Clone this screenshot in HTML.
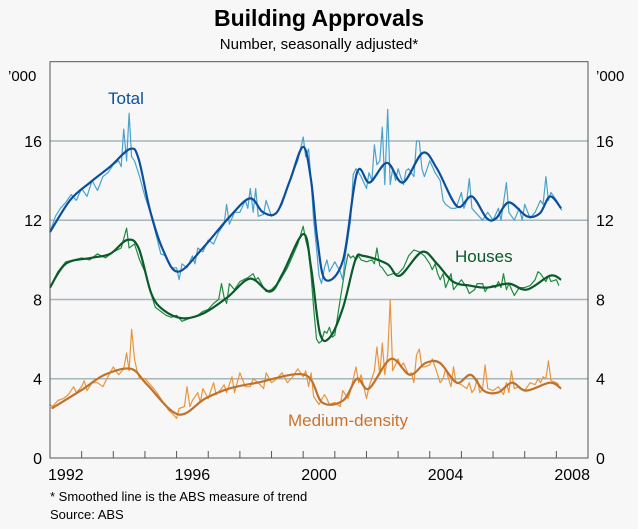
<!DOCTYPE html>
<html><head><meta charset="utf-8">
<style>
body{margin:0;background:#f7f7f7;}
svg{display:block;font-family:"Liberation Sans",Arial,sans-serif;}
</style></head>
<body>
<svg id="chart" width="638" height="529" viewBox="0 0 638 529">
<rect x="0" y="0" width="638" height="529" fill="#f7f7f7"/>
<text x="319" y="26" text-anchor="middle" font-size="23" font-weight="bold" fill="#000">Building Approvals</text>
<text x="319" y="49" text-anchor="middle" font-size="15" fill="#000">Number, seasonally adjusted*</text>
<g id="grid"></g>
<g id="series"></g>
<rect x="50" y="61.7" width="538" height="396.3" fill="none" stroke="#555" stroke-width="1"/>
<g id="axes"></g>
<text x="8" y="81" font-size="15">’000</text>
<text x="596" y="81" font-size="15">’000</text>
<text x="108" y="104" font-size="17" fill="#0b4f9c">Total</text>
<text x="455" y="262" font-size="17" fill="#0b5a2c">Houses</text>
<text x="288" y="426" font-size="17" fill="#c9742c">Medium-density</text>
<text x="50" y="501" font-size="13">*    Smoothed line is the ABS measure of trend</text>
<text x="50" y="519" font-size="13">Source: ABS</text>
</svg>
<script>
const yTicks=[0,4,8,12,16];
const xLabels=[1992,1996,2000,2004,2008];
const totalTrend=[[1992.0,11.4],[1992.63,13.0],[1993.26,13.9],[1993.9,14.7],[1994.53,15.6],[1994.8,15.1],[1995.16,12.5],[1995.57,10.5],[1996.05,9.4],[1996.83,10.6],[1997.69,12.2],[1998.32,13.1],[1998.73,12.4],[1999.17,12.4],[1999.58,14.0],[2000.0,15.7],[2000.25,14.0],[2000.45,11.0],[2000.7,9.0],[2001.26,10.0],[2001.7,14.4],[2002.1,13.9],[2002.65,14.9],[2003.15,13.9],[2003.78,15.4],[2004.23,14.6],[2004.86,12.7],[2005.33,13.2],[2005.8,12.1],[2006.1,12.1],[2006.5,12.9],[2007.07,12.2],[2007.48,12.35],[2007.8,13.2],[2008.15,12.6]];
const housesTrend=[[1992.0,8.6],[1992.5,9.8],[1993.3,10.1],[1993.9,10.3],[1994.43,11.0],[1994.8,10.6],[1995.2,8.3],[1995.6,7.45],[1996.2,7.05],[1996.85,7.3],[1997.6,8.1],[1998.32,9.05],[1998.95,8.4],[1999.35,9.3],[2000.0,11.3],[2000.25,9.6],[2000.53,6.3],[2000.85,6.1],[2001.26,7.6],[2001.65,10.0],[2001.9,10.2],[2002.65,9.8],[2003.05,9.2],[2003.75,10.4],[2004.23,9.8],[2004.73,8.9],[2005.26,8.7],[2005.8,8.6],[2006.5,8.8],[2007.07,8.5],[2007.8,9.2],[2008.15,9.0]];
const mediumTrend=[[1992.05,2.5],[1992.97,3.4],[1993.73,4.2],[1994.56,4.5],[1995.07,3.7],[1996.05,2.2],[1996.9,3.0],[1997.66,3.5],[1998.55,3.8],[2000.05,4.2],[2000.6,2.8],[2001.26,2.9],[2001.7,4.0],[2002.08,3.5],[2002.77,5.0],[2003.37,4.2],[2003.87,4.8],[2004.32,4.8],[2004.85,3.8],[2005.3,4.2],[2005.7,3.4],[2006.15,3.3],[2006.6,3.8],[2007.04,3.4],[2007.8,3.8],[2008.15,3.5]];
const totalRaw=[[1992.0,11.4],[1992.17,12.2],[1992.33,12.6],[1992.5,12.9],[1992.67,13.3],[1992.83,13.0],[1993.0,13.6],[1993.17,13.2],[1993.33,14.0],[1993.5,13.5],[1993.67,14.2],[1993.83,14.4],[1994.0,14.8],[1994.17,15.0],[1994.25,14.7],[1994.33,16.6],[1994.42,15.0],[1994.5,17.4],[1994.58,15.2],[1994.67,15.0],[1994.83,14.2],[1995.0,13.2],[1995.17,12.4],[1995.33,11.4],[1995.5,10.3],[1995.67,10.2],[1995.83,9.6],[1996.0,9.6],[1996.08,9.0],[1996.17,9.8],[1996.33,9.6],[1996.5,10.2],[1996.58,9.8],[1996.67,10.6],[1996.83,10.4],[1997.0,11.0],[1997.17,10.8],[1997.33,11.4],[1997.5,11.8],[1997.58,12.8],[1997.67,11.8],[1997.83,12.4],[1998.0,12.4],[1998.17,13.0],[1998.25,12.6],[1998.33,13.6],[1998.42,12.4],[1998.5,13.6],[1998.58,12.2],[1998.75,12.3],[1998.83,13.0],[1999.0,12.2],[1999.17,12.4],[1999.33,12.8],[1999.5,13.6],[1999.67,14.4],[1999.83,15.0],[2000.0,16.2],[2000.08,15.2],[2000.17,15.6],[2000.25,14.0],[2000.33,12.0],[2000.42,10.6],[2000.5,9.2],[2000.58,8.8],[2000.67,9.6],[2000.75,10.0],[2000.83,9.4],[2001.0,9.9],[2001.17,9.4],[2001.25,9.0],[2001.33,10.2],[2001.5,12.0],[2001.58,14.3],[2001.67,14.6],[2001.75,14.4],[2001.83,14.2],[2002.0,13.6],[2002.08,14.4],[2002.17,14.0],[2002.25,15.8],[2002.33,14.8],[2002.42,15.0],[2002.5,16.7],[2002.58,13.8],[2002.67,17.6],[2002.75,13.8],[2002.83,14.6],[2002.92,14.0],[2003.0,14.6],[2003.08,14.2],[2003.17,13.8],[2003.25,14.5],[2003.33,14.6],[2003.5,14.2],[2003.58,16.0],[2003.67,16.0],[2003.75,14.6],[2003.83,14.2],[2004.0,15.0],[2004.17,14.4],[2004.33,14.0],[2004.42,13.0],[2004.5,12.8],[2004.67,12.6],[2004.83,12.6],[2005.0,13.4],[2005.08,12.6],[2005.17,13.0],[2005.25,14.1],[2005.33,12.6],[2005.5,12.3],[2005.67,12.0],[2005.83,12.4],[2006.0,12.0],[2006.17,12.6],[2006.25,12.0],[2006.42,13.9],[2006.5,12.4],[2006.67,12.0],[2006.83,12.6],[2006.92,12.0],[2007.0,12.8],[2007.17,12.1],[2007.33,12.4],[2007.5,13.0],[2007.58,12.8],[2007.67,14.2],[2007.75,13.0],[2007.83,13.4],[2008.0,13.0],[2008.17,12.5]];
const housesRaw=[[1992.0,8.6],[1992.25,9.4],[1992.5,9.9],[1992.75,10.0],[1993.0,10.1],[1993.25,10.0],[1993.5,10.3],[1993.75,10.1],[1994.0,10.4],[1994.25,10.6],[1994.42,11.6],[1994.5,10.6],[1994.67,10.8],[1994.83,10.0],[1995.0,9.4],[1995.17,8.4],[1995.33,7.6],[1995.5,7.4],[1995.67,7.2],[1995.83,7.1],[1996.0,7.2],[1996.17,6.9],[1996.33,7.0],[1996.5,7.1],[1996.67,7.2],[1996.83,7.4],[1997.0,7.5],[1997.17,7.8],[1997.33,8.0],[1997.42,8.8],[1997.5,8.1],[1997.58,7.8],[1997.67,8.8],[1997.83,8.5],[1998.0,8.9],[1998.25,9.1],[1998.42,9.3],[1998.5,9.0],[1998.58,9.1],[1998.75,8.6],[1998.83,8.4],[1999.0,8.5],[1999.25,8.9],[1999.5,9.6],[1999.67,10.2],[1999.83,10.8],[2000.0,11.7],[2000.08,11.0],[2000.17,10.4],[2000.25,9.2],[2000.33,7.6],[2000.42,6.0],[2000.5,5.8],[2000.58,5.9],[2000.67,6.4],[2000.75,6.3],[2000.83,6.6],[2000.92,6.1],[2001.0,6.2],[2001.17,8.0],[2001.33,9.6],[2001.42,10.3],[2001.5,10.1],[2001.58,10.2],[2001.67,10.0],[2001.75,10.2],[2001.83,10.0],[2002.0,9.9],[2002.17,10.0],[2002.25,9.8],[2002.33,10.6],[2002.42,9.7],[2002.5,9.6],[2002.58,9.4],[2002.67,9.2],[2002.83,9.3],[2003.0,9.3],[2003.17,9.6],[2003.33,10.2],[2003.5,10.5],[2003.67,10.4],[2003.83,10.2],[2004.0,9.8],[2004.08,9.5],[2004.17,9.8],[2004.25,9.3],[2004.33,9.0],[2004.42,9.3],[2004.5,8.6],[2004.58,8.9],[2004.67,9.3],[2004.75,8.5],[2005.0,9.0],[2005.17,8.6],[2005.25,8.3],[2005.42,8.5],[2005.5,8.8],[2005.67,8.8],[2005.75,8.4],[2005.83,8.6],[2006.0,8.7],[2006.08,8.6],[2006.17,8.9],[2006.25,8.6],[2006.33,9.3],[2006.42,8.5],[2006.5,8.8],[2006.67,8.2],[2006.83,8.6],[2007.0,8.6],[2007.17,8.7],[2007.33,9.0],[2007.42,9.4],[2007.5,9.3],[2007.67,8.9],[2007.75,9.2],[2007.83,8.9],[2008.0,9.0],[2008.08,8.7]];
const mediumRaw=[[1992.0,2.7],[1992.08,2.6],[1992.25,2.9],[1992.42,3.0],[1992.58,3.2],[1992.75,3.6],[1992.83,3.3],[1993.0,3.6],[1993.08,3.9],[1993.17,3.4],[1993.33,3.8],[1993.5,3.8],[1993.67,3.6],[1993.83,4.1],[1994.0,4.6],[1994.08,4.4],[1994.17,4.2],[1994.33,4.5],[1994.42,5.3],[1994.5,4.4],[1994.58,6.5],[1994.67,5.0],[1994.75,4.4],[1994.83,4.0],[1995.0,4.0],[1995.17,3.7],[1995.33,3.4],[1995.5,3.0],[1995.67,2.6],[1995.75,2.4],[1995.83,2.3],[1996.0,2.0],[1996.08,2.5],[1996.25,2.6],[1996.33,3.6],[1996.42,2.6],[1996.5,2.9],[1996.67,3.3],[1996.75,2.8],[1996.83,3.5],[1997.0,3.0],[1997.17,3.8],[1997.25,3.2],[1997.42,3.5],[1997.5,3.7],[1997.58,3.3],[1997.75,4.1],[1997.83,3.3],[1998.0,4.3],[1998.17,3.6],[1998.33,3.6],[1998.42,4.0],[1998.58,3.8],[1998.75,3.5],[1998.83,4.3],[1999.0,3.8],[1999.17,4.0],[1999.33,4.3],[1999.5,3.8],[1999.67,4.1],[1999.83,4.5],[2000.0,4.1],[2000.08,4.4],[2000.17,3.6],[2000.25,4.3],[2000.33,3.1],[2000.5,2.7],[2000.67,3.2],[2000.75,3.0],[2000.83,2.7],[2001.0,2.8],[2001.17,2.6],[2001.25,3.4],[2001.42,3.0],[2001.5,3.4],[2001.67,4.6],[2001.75,3.8],[2001.83,4.2],[2002.0,3.0],[2002.08,3.6],[2002.25,4.4],[2002.33,5.6],[2002.42,4.2],[2002.5,5.8],[2002.58,4.2],[2002.67,5.2],[2002.75,8.0],[2002.83,4.4],[2003.0,5.0],[2003.08,4.6],[2003.17,4.8],[2003.33,4.2],[2003.42,4.3],[2003.5,3.8],[2003.58,5.2],[2003.67,5.5],[2003.75,4.6],[2003.83,4.6],[2004.0,4.7],[2004.08,5.0],[2004.17,4.6],[2004.33,3.8],[2004.42,4.0],[2004.5,4.5],[2004.67,3.6],[2004.75,4.6],[2004.83,3.8],[2005.0,3.7],[2005.17,3.5],[2005.25,3.8],[2005.33,3.3],[2005.42,3.5],[2005.5,4.0],[2005.58,3.3],[2005.67,3.5],[2005.75,4.7],[2005.83,3.5],[2006.0,3.4],[2006.17,3.6],[2006.33,3.2],[2006.42,3.8],[2006.5,3.3],[2006.58,4.4],[2006.67,3.5],[2006.83,3.6],[2007.0,3.4],[2007.17,3.8],[2007.33,3.7],[2007.42,4.0],[2007.5,3.8],[2007.58,4.1],[2007.67,4.0],[2007.75,4.9],[2007.83,3.9],[2008.0,3.8],[2008.08,3.7]];

const NS='http://www.w3.org/2000/svg';
const L=50,R=588,T=61.7,B=458;
function xs(yr){return L+(yr-1992)*(R-L)/17;}
function ys(v){return B-v*(B-T)/20;}
function mk(tag,attrs,parent){const e=document.createElementNS(NS,tag);for(const k in attrs)e.setAttribute(k,attrs[k]);parent.appendChild(e);return e;}
const grid=document.getElementById('grid'),axes=document.getElementById('axes'),ser=document.getElementById('series');
yTicks.forEach(v=>{
  if(v>0){const g=mk('line',{x1:L,x2:R,y1:ys(v),y2:ys(v),stroke:'#a7b6ba','stroke-width':1.5},grid);
  
  }
  const t1=mk('text',{x:42,y:ys(v)+6,'text-anchor':'end','font-size':16},axes);t1.textContent=v;
  
  
  const t2=mk('text',{x:596,y:ys(v)+6,'font-size':16},axes);t2.textContent=v;
  
  
});
for(let y=1993;y<=2008;y++){const tk=mk('line',{x1:xs(y),x2:xs(y),y1:B,y2:B-7,stroke:'#555','stroke-width':1},axes);
  
  }
xLabels.forEach(y=>{const t=mk('text',{x:xs(y+0.5),y:B+22,'text-anchor':'middle','font-size':16},axes);t.textContent=y;
  
  });
function poly(d){return d.map((p,i)=>(i?'L':'M')+xs(p[0]).toFixed(1)+','+ys(p[1]).toFixed(1)).join('');}
function smooth(d){const P=d.map(p=>[xs(p[0]),ys(p[1])]);let s='M'+P[0][0].toFixed(1)+','+P[0][1].toFixed(1);
  for(let i=0;i<P.length-1;i++){const p0=P[Math.max(i-1,0)],p1=P[i],p2=P[i+1],p3=P[Math.min(i+2,P.length-1)];
  const c1=[p1[0]+(p2[0]-p0[0])/6,p1[1]+(p2[1]-p0[1])/6],c2=[p2[0]-(p3[0]-p1[0])/6,p2[1]-(p3[1]-p1[1])/6];
  s+='C'+c1.map(n=>n.toFixed(1))+' '+c2.map(n=>n.toFixed(1))+' '+p2[0].toFixed(1)+','+p2[1].toFixed(1);}return s;}
function line(d,color,w,name,isSmooth){const e=mk('path',{d:isSmooth?smooth(d):poly(d),fill:'none',stroke:color,'stroke-width':w,'stroke-linejoin':'round'},ser);
  
  }
line(mediumRaw,'#e8953f',1.2,'medium-density-raw-line',false);
line(mediumTrend,'#c0722c',2.2,'medium-density-trend-line',true);
line(housesRaw,'#1f8b3e',1.2,'houses-raw-line',false);
line(housesTrend,'#0b5a2c',2.2,'houses-trend-line',true);
line(totalRaw,'#4aa2cc',1.2,'total-raw-line',false);
line(totalTrend,'#0b4f9c',2.2,'total-trend-line',true);
</script>
</body></html>
